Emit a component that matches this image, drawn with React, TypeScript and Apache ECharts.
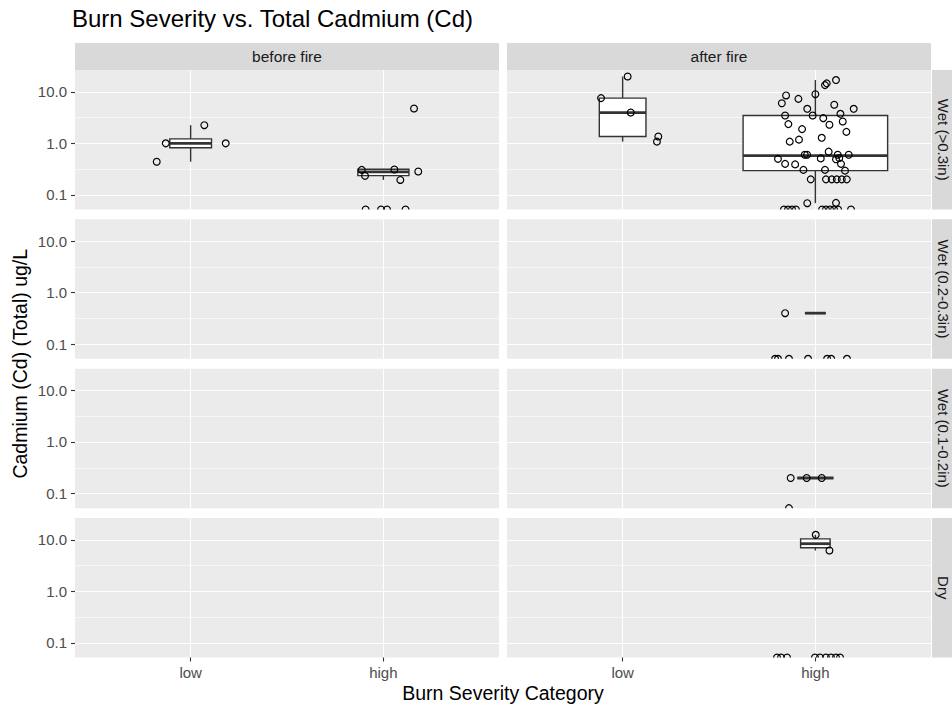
import { useEffect, useRef } from 'react';
import * as echarts from 'echarts';

const chartTitle = 'Burn Severity vs. Total Cadmium (Cd)';
const xTitle = 'Burn Severity Category';
const yTitle = 'Cadmium (Cd) (Total) ug/L';
const fireCols = ['before fire', 'after fire'];
const rainRows = ['Wet (>0.3in)', 'Wet (0.2-0.3in)', 'Wet (0.1-0.2in)', 'Dry'];
const severityCats = ['low', 'high'];
const yMajor = [0.1, 1, 10];
const yMinor = [0.316, 3.16];
const yLimits = [0.052, 26.5];
const xLimits = [0.4, 2.6];

// Boxplot statistics per facet group
const boxRow = [0, 0, 0, 0, 1, 2, 3];
const boxCol = [0, 0, 1, 1, 1, 1, 1];
const boxCat = [1, 2, 1, 2, 2, 2, 2];
const boxLow = [0.44, 0.195, 1.08, 0.069, 0.4, 0.2, 6.2];
const boxQ1 = [0.82, 0.236, 1.36, 0.296, 0.4, 0.2, 7.0];
const boxMed = [1.0, 0.28, 3.96, 0.58, 0.4, 0.2, 8.4];
const boxQ3 = [1.22, 0.315, 7.55, 3.47, 0.4, 0.2, 10.4];
const boxHigh = [2.25, 0.315, 19.8, 16.9, 0.4, 0.2, 12.5];
const boxN = [4, 6, 5, 48, 1, 3, 2];

// Jittered observations: [jittered category position, value]; 0 = non-detect (drawn at panel floor)
const ptsBeforeWet3Low = [[0.824, 0.44], [0.871, 1.0], [1.071, 2.25], [1.182, 1.0]];
const ptsBeforeWet3High = [
  [2.159, 4.74], [1.888, 0.305], [1.905, 0.234], [2.057, 0.31], [2.088, 0.195], [2.181, 0.284],
  [1.908, 0], [1.988, 0], [2.019, 0], [2.115, 0],
];
const ptsAfterWet3Low = [[1.026, 19.8], [0.888, 7.55], [1.042, 3.96], [1.185, 1.36], [1.178, 1.08]];
const ptsAfterWet3High = [
  [2.107, 16.9], [2.059, 14.6], [2.05, 13.5], [2.0, 9.0], [1.848, 8.5], [1.826, 6.0], [1.912, 7.3],
  [2.098, 5.6], [2.199, 4.68], [1.958, 4.68], [2.13, 3.74], [1.843, 3.47], [1.986, 3.47], [2.041, 3.08],
  [2.142, 2.65], [2.073, 2.29], [1.86, 2.36], [1.931, 1.89], [2.161, 1.67], [2.033, 1.28], [1.915, 1.18],
  [1.867, 1.08], [2.069, 0.69], [1.945, 0.6], [1.957, 0.6], [2.116, 0.6], [2.173, 0.6], [1.806, 0.5],
  [1.843, 0.4], [1.895, 0.39], [2.028, 0.51], [2.107, 0.49], [2.133, 0.4], [1.938, 0.305], [2.05, 0.305],
  [2.154, 0.295], [1.976, 0.2], [2.055, 0.2], [2.085, 0.2], [2.111, 0.2], [2.137, 0.2], [2.163, 0.2],
  [1.958, 0.069], [2.107, 0.07], [2.124, 0.52],
  [1.837, 0], [1.858, 0], [1.879, 0], [1.899, 0], [2.035, 0], [2.055, 0], [2.076, 0], [2.097, 0],
  [2.118, 0], [2.185, 0],
];
const ptsAfterWet2High = [
  [1.843, 0.4], [1.791, 0], [1.806, 0], [1.863, 0], [1.962, 0], [2.061, 0], [2.082, 0], [2.164, 0],
];
const ptsAfterWet1High = [[1.872, 0.2], [1.955, 0.2], [2.033, 0.2], [1.863, 0]];
const ptsAfterDryHigh = [
  [2.002, 12.5], [2.073, 6.2], [1.801, 0], [1.822, 0], [1.853, 0], [1.998, 0], [2.024, 0], [2.055, 0],
  [2.081, 0], [2.107, 0], [2.128, 0],
];
const pointSets = [
  ptsBeforeWet3Low, ptsBeforeWet3High, ptsAfterWet3Low, ptsAfterWet3High,
  ptsAfterWet2High, ptsAfterWet1High, ptsAfterDryHigh,
];
const pointRow = [0, 0, 0, 0, 1, 2, 3];
const pointCol = [0, 0, 1, 1, 1, 1, 1];

const FONT = '"Liberation Sans", Arial, Helvetica, sans-serif';
const PANEL_LEFT = [75, 507];
const PANEL_W = 424;
const PANEL_TOP = 70;
const PANEL_H = 139.5;
const ROW_STEP = 149.33;
const STRIP_H = 27;
const STRIP_BG = '#D9D9D9';

function buildOption() {
  const grid: any[] = [];
  const xAxis: any[] = [];
  const yAxis: any[] = [];
  const series: any[] = [];
  const graphic: any[] = [];

  const gIndex = (r: number, c: number) => r * 2 + c;

  for (let r = 0; r < 4; r++) {
    for (let c = 0; c < 2; c++) {
      const g = gIndex(r, c);
      grid.push({
        left: PANEL_LEFT[c], top: PANEL_TOP + r * ROW_STEP, width: PANEL_W, height: PANEL_H,
        show: true, backgroundColor: '#EBEBEB', borderWidth: 0, containLabel: false,
      });
      xAxis.push({
        gridIndex: g, type: 'value', min: xLimits[0], max: xLimits[1],
        axisLine: { show: false },
        axisTick: { show: r === 3, customValues: [1, 2], length: 4, lineStyle: { color: '#333333', width: 1.1 } },
        axisLabel: {
          show: r === 3, customValues: [1, 2], margin: 8, color: '#4D4D4D', fontSize: 15, fontFamily: FONT,
          formatter: (v: number) => severityCats[Math.round(v) - 1],
        },
        splitLine: { show: true, lineStyle: { color: '#FFFFFF', width: 1.1 } },
      });
      yAxis.push({
        gridIndex: g, type: 'log', logBase: 10, min: yLimits[0], max: yLimits[1],
        axisLine: { show: false },
        axisTick: { show: c === 0, customValues: yMajor, length: 4, lineStyle: { color: '#333333', width: 1.1 } },
        axisLabel: {
          show: c === 0, customValues: yMajor, margin: 8, color: '#4D4D4D', fontSize: 15, fontFamily: FONT,
          formatter: (v: number) => Number(v).toFixed(1),
        },
        splitLine: { show: true, lineStyle: { color: '#FFFFFF', width: 1.1 } },
      });
      yAxis.push({
        gridIndex: g, type: 'log', logBase: 10, min: yLimits[0], max: yLimits[1], position: 'right',
        axisLine: { show: false },
        axisTick: { show: false, customValues: yMinor },
        axisLabel: { show: false },
        splitLine: { show: true, lineStyle: { color: '#FFFFFF', width: 0.55 } },
      });
    }
  }

  const nMax = Math.max(...boxN);
  for (let i = 0; i < boxN.length; i++) {
    const g = gIndex(boxRow[i], boxCol[i]);
    const w = 0.75 * Math.sqrt(boxN[i] / nMax);
    series.push({
      type: 'custom', xAxisIndex: g, yAxisIndex: g * 2, z: 2,
      data: [[boxCat[i], boxLow[i], boxQ1[i], boxMed[i], boxQ3[i], boxHigh[i], w]],
      renderItem: (_p: any, api: any) => {
        const xc = api.value(0);
        const bw = api.value(6);
        const pLo = api.coord([xc, api.value(1)]);
        const pQ1 = api.coord([xc, api.value(2)]);
        const pMed = api.coord([xc, api.value(3)]);
        const pQ3 = api.coord([xc, api.value(4)]);
        const pHi = api.coord([xc, api.value(5)]);
        const xl = api.coord([xc - bw / 2, api.value(3)])[0];
        const xr = api.coord([xc + bw / 2, api.value(3)])[0];
        const stroke = '#333333';
        return {
          type: 'group',
          children: [
            { type: 'line', shape: { x1: pHi[0], y1: pHi[1], x2: pQ3[0], y2: pQ3[1] }, style: { stroke, lineWidth: 1.4 } },
            { type: 'line', shape: { x1: pQ1[0], y1: pQ1[1], x2: pLo[0], y2: pLo[1] }, style: { stroke, lineWidth: 1.4 } },
            {
              type: 'rect', shape: { x: xl, y: pQ3[1], width: xr - xl, height: pQ1[1] - pQ3[1] },
              style: { fill: '#FFFFFF', stroke, lineWidth: 1.4 },
            },
            { type: 'line', shape: { x1: xl, y1: pMed[1], x2: xr, y2: pMed[1] }, style: { stroke, lineWidth: 2.8 } },
          ],
        };
      },
    });
  }

  for (let i = 0; i < pointSets.length; i++) {
    const g = gIndex(pointRow[i], pointCol[i]);
    series.push({
      type: 'custom', xAxisIndex: g, yAxisIndex: g * 2, z: 3, clip: true,
      data: pointSets[i].map(([x, v]) => [x, v > 0 ? v : yLimits[0]]),
      renderItem: (_p: any, api: any) => {
        const pt = api.coord([api.value(0), api.value(1)]);
        return {
          type: 'circle', shape: { cx: pt[0], cy: pt[1], r: 3.4 },
          style: { fill: 'none', stroke: '#000000', lineWidth: 1.2 },
        };
      },
    });
  }

  // Title
  graphic.push({
    type: 'text', left: 72, top: 6,
    style: { text: chartTitle, font: `24px ${FONT}`, fill: '#000000' },
  });
  // Column strips
  for (let c = 0; c < 2; c++) {
    graphic.push({
      type: 'rect', shape: { x: PANEL_LEFT[c], y: PANEL_TOP - STRIP_H, width: PANEL_W, height: STRIP_H },
      style: { fill: STRIP_BG }, silent: true,
    });
    graphic.push({
      type: 'text', x: PANEL_LEFT[c] + PANEL_W / 2, y: PANEL_TOP - STRIP_H / 2,
      style: { text: fireCols[c], font: `15.5px ${FONT}`, fill: '#1A1A1A', align: 'center', verticalAlign: 'middle' },
    });
  }
  // Row strips (the strip runs past the right edge of the page, as in the reference)
  const stripX = PANEL_LEFT[1] + PANEL_W + 1;
  for (let r = 0; r < 4; r++) {
    const top = PANEL_TOP + r * ROW_STEP;
    graphic.push({
      type: 'rect', shape: { x: stripX, y: top, width: STRIP_H, height: PANEL_H },
      style: { fill: STRIP_BG }, silent: true,
    });
    graphic.push({
      type: 'text', x: stripX + 11.5, y: top + PANEL_H / 2, rotation: -Math.PI / 2,
      style: { text: rainRows[r], font: `15px ${FONT}`, fill: '#1A1A1A', align: 'center', verticalAlign: 'middle' },
    });
  }
  // Axis titles
  const plotBottom = PANEL_TOP + 3 * ROW_STEP + PANEL_H;
  graphic.push({
    type: 'text', x: (PANEL_LEFT[0] + PANEL_LEFT[1] + PANEL_W) / 2, y: plotBottom + 36,
    style: { text: xTitle, font: `19.5px ${FONT}`, fill: '#000000', align: 'center', verticalAlign: 'middle' },
  });
  graphic.push({
    type: 'text', x: 20, y: (PANEL_TOP + plotBottom) / 2, rotation: Math.PI / 2,
    style: { text: yTitle, font: `19.5px ${FONT}`, fill: '#000000', align: 'center', verticalAlign: 'middle' },
  });

  return {
    animation: false,
    backgroundColor: '#FFFFFF',
    textStyle: { fontFamily: FONT },
    grid, xAxis, yAxis, series, graphic,
  };
}

export default function App() {
  const ref = useRef<HTMLDivElement>(null);
  useEffect(() => {
    if (!ref.current) return;
    const chart = echarts.init(ref.current, undefined, { renderer: 'svg' });
    chart.setOption(buildOption());
    return () => chart.dispose();
  }, []);
  return <div ref={ref} style={{ position: 'fixed', left: 0, top: 0, width: 952, height: 710 }} />;
}
